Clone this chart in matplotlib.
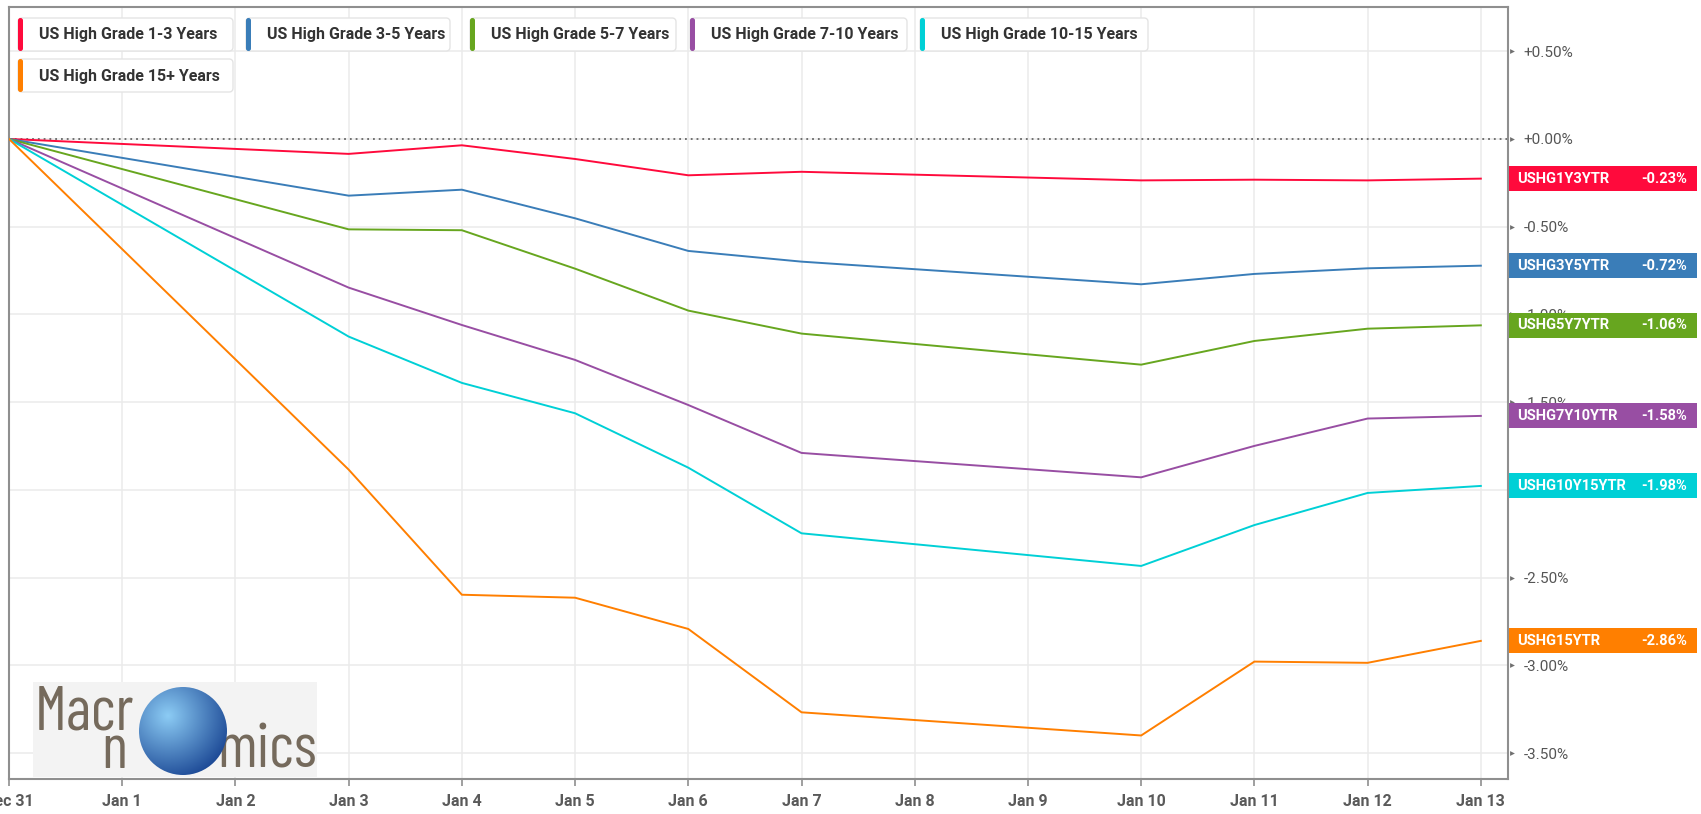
import numpy as np
import matplotlib
matplotlib.use("Agg")
import matplotlib.pyplot as plt
from matplotlib.patches import FancyBboxPatch, Rectangle, Circle

plt.rcParams['font.family'] = ['Roboto', 'DejaVu Sans']

# ------------------------------------------------------------
# Data (YTD total return, %)
# ------------------------------------------------------------
days = [0, 3, 4, 5, 6, 7, 10, 11, 12, 13]
tick_days = list(range(14))
tick_labels = ["Dec 31", "Jan 1", "Jan 2", "Jan 3", "Jan 4", "Jan 5", "Jan 6",
               "Jan 7", "Jan 8", "Jan 9", "Jan 10", "Jan 11", "Jan 12", "Jan 13"]

names = ["US High Grade 1-3 Years", "US High Grade 3-5 Years",
         "US High Grade 5-7 Years", "US High Grade 7-10 Years",
         "US High Grade 10-15 Years", "US High Grade 15+ Years"]
tickers = ["USHG1Y3YTR", "USHG3Y5YTR", "USHG5Y7YTR", "USHG7Y10YTR",
           "USHG10Y15YTR", "USHG15YTR"]

hg_1_3 = [0, -0.085, -0.036, -0.114, -0.207, -0.187, -0.236, -0.232, -0.236, -0.226]
hg_3_5 = [0, -0.323, -0.289, -0.452, -0.638, -0.699, -0.828, -0.769, -0.737, -0.722]
hg_5_7 = [0, -0.515, -0.520, -0.739, -0.978, -1.109, -1.286, -1.151, -1.081, -1.062]
hg_7_10 = [0, -0.847, -1.060, -1.259, -1.516, -1.789, -1.928, -1.749, -1.593, -1.578]
hg_10_15 = [0, -1.126, -1.390, -1.563, -1.873, -2.247, -2.433, -2.200, -2.017, -1.977]
hg_15p = [0, -1.884, -2.597, -2.614, -2.792, -3.267, -3.399, -2.978, -2.985, -2.860]
series = [hg_1_3, hg_3_5, hg_5_7, hg_7_10, hg_10_15, hg_15p]

y_ticks = [0.5, 0.0, -0.5, -1.0, -1.5, -2.0, -2.5, -3.0, -3.5]

colors = ["#FF0A3C", "#3A7DB8", "#67A61F", "#984EA3", "#00D0D6", "#FF7F00"]

# ------------------------------------------------------------
# Layout (pixels of a 1701x814 canvas)
# ------------------------------------------------------------
W, H = 1701, 814
ax_l, ax_r, ax_t, ax_b = 9, 1508, 7, 779

fig = plt.figure(figsize=(W / 100, H / 100), dpi=100)
ax = fig.add_axes([ax_l / W, 1 - ax_b / H, (ax_r - ax_l) / W, (ax_b - ax_t) / H])

for s, c in zip(series, colors):
    ax.plot(days, s, color=c, lw=1.4, zorder=3, solid_joinstyle="miter")

ax.set_xlim(0, 13.24)
ax.set_ylim(-3.647, 0.752)

ax.set_xticks(tick_days)
ax.set_xticklabels(tick_labels, fontsize=11.5, fontweight="bold", color="#5A5A5A")
ax.tick_params(axis="x", length=5, width=1.2, color="#8F8F8F", pad=6)

ax.yaxis.tick_right()
ax.set_yticks(y_ticks)
ax.set_yticklabels([f"{v:+.2f}%" if v != 0 else "+0.00%" for v in y_ticks],
                   fontsize=11, color="#555555")
ax.tick_params(axis="y", length=0, pad=11)

ax.grid(True, color="#EBEBEB", lw=1.1, zorder=0)
ax.set_axisbelow(True)
ax.axhline(0, color="#666666", lw=1.3, ls=(0, (1, 2.2)), zorder=2)

for sp in ax.spines.values():
    sp.set_color("#8F8F8F")
    sp.set_linewidth(1.5)

# little arrow heads at the y ticks
ax.scatter([1.0025] * len(y_ticks), y_ticks, marker=">", s=12, color="#707070",
           transform=ax.get_yaxis_transform(), clip_on=False, zorder=4, lw=0)

# last-value tags on the right
span = ax_r - ax_l
px_per_unit = (ax_b - ax_t) / (0.752 + 3.647)
box_h = 25 / px_per_unit
for s, c, t in zip(series, colors, tickers):
    last = s[-1]
    ax.add_patch(Rectangle(((1509 - ax_l) / span, last - box_h / 2),
                           (1697 - 1509) / span, box_h, facecolor=c, edgecolor="none",
                           transform=ax.get_yaxis_transform(), clip_on=False, zorder=5))
    ax.text((1517 - ax_l) / span, last, t, color="white", fontsize=10.5,
            fontweight="bold", va="center", ha="left",
            transform=ax.get_yaxis_transform(), clip_on=False, zorder=6)
    ax.text((1687 - ax_l) / span, last, f"{last:.2f}%", color="white", fontsize=10.5,
            fontweight="bold", va="center", ha="right",
            transform=ax.get_yaxis_transform(), clip_on=False, zorder=6)

# ------------------------------------------------------------
# Overlay in pixel coordinates: legend chips and logo
# ------------------------------------------------------------
ov = fig.add_axes([0, 0, 1, 1], zorder=5)
ov.set_xlim(0, W)
ov.set_ylim(H, 0)
ov.axis("off")
ov.patch.set_visible(False)

chips = [(18, 18, 215), (246, 18, 204), (470, 18, 206),
         (690, 18, 217), (920, 18, 228), (18, 59, 215)]
for (x, y, w), name, c in zip(chips, names, colors):
    ov.add_patch(FancyBboxPatch((x, y), w, 33, boxstyle="round,pad=0,rounding_size=4",
                                facecolor="white", edgecolor="#E4E4E4", lw=1))
    ov.add_patch(FancyBboxPatch((x, y), 5, 33, boxstyle="round,pad=0,rounding_size=2.5",
                                facecolor=c, edgecolor="none"))
    ov.text(x + 21, y + 17, name, fontsize=11.5, fontweight="bold", color="#333333",
            va="center", ha="left")

# logo
ov.add_patch(Rectangle((33, 682), 284, 95, facecolor="#F3F3F3", edgecolor="none"))
logo_font = ['Barlow Condensed', 'Archivo Narrow', 'DejaVu Sans']
ov.text(35, 730, "Macr", family=logo_font, fontsize=44, color="#756A5C",
        va="baseline", ha="left")
ov.text(101, 768, "n", family=logo_font, fontsize=44, color="#756A5C",
        va="baseline", ha="left")
ov.text(317, 768, "mics", family=logo_font, fontsize=44, color="#756A5C",
        va="baseline", ha="right")

gx, gy, gr = 183, 731, 44
yy, xx = np.mgrid[-1:1:200j, -1:1:200j]
dist = np.sqrt((xx + 0.35) ** 2 + (yy + 0.35) ** 2)
shade = np.clip(dist / 1.6, 0, 1)
light = np.array([0.55, 0.80, 0.96])
dark = np.array([0.08, 0.25, 0.56])
rgb = light[None, None, :] * (1 - shade[..., None]) + dark[None, None, :] * shade[..., None]
im = ov.imshow(rgb, extent=(gx - gr, gx + gr, gy + gr, gy - gr), zorder=3,
               interpolation="bilinear")
clip = Circle((gx, gy), gr, transform=ov.transData)
im.set_clip_path(clip)

fig.savefig("out.png", dpi=100)
